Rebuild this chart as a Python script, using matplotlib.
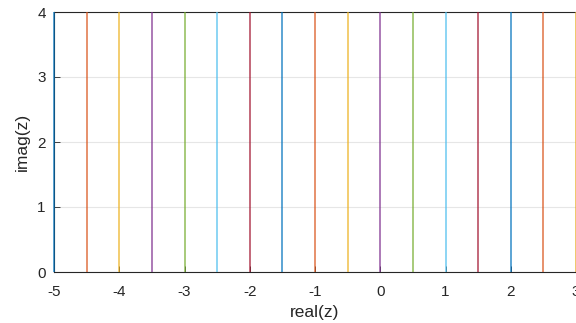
import numpy as np
import matplotlib
matplotlib.use("Agg")
import matplotlib.pyplot as plt

plt.rcParams['font.family'] = ['Liberation Sans', 'DejaVu Sans']

real_vals = [-5, -4.5, -4, -3.5, -3, -2.5, -2, -1.5, -1, -0.5, 0, 0.5, 1, 1.5, 2, 2.5, 3]
imag_range = [0, 4]
colors = ['#0072BD', '#D95319', '#EDB120', '#7E2F8E', '#77AC30', '#4DBEEE', '#A2142F']
xticks = [-5, -4, -3, -2, -1, 0, 1, 2, 3]
yticks = [0, 1, 2, 3, 4]

fig = plt.figure(figsize=(5.76, 3.23), dpi=100)
ax = fig.add_axes([54/576, 1-272/323, (576-54)/576, (272-12)/323])

for i, r in enumerate(real_vals):
    ax.plot([r, r], imag_range, color=colors[i % len(colors)], lw=1.2, alpha=0.75,
            solid_capstyle='butt', clip_on=False, zorder=3)

ax.set_xlim(-5, 3)
ax.set_ylim(0, 4)
ax.set_xticks(xticks)
ax.set_yticks(yticks)
ax.set_xticklabels([str(t) for t in xticks])
ax.grid(axis='y', color='#e6e6e6', lw=0.8)
ax.set_axisbelow(True)
ax.tick_params(direction='in', length=4, labelsize=11, colors='#262626', width=0.6)
ax.tick_params(axis='x', pad=9)
ax.tick_params(axis='y', pad=6)
for s in ax.spines.values():
    s.set_color('#262626')
    s.set_linewidth(0.8)
ax.set_xlabel('real(z)', fontsize=12.5, color='#262626', labelpad=5)
ax.set_ylabel('imag(z)', fontsize=12.5, color='#262626', labelpad=5)

fig.savefig('out.png', dpi=100)
